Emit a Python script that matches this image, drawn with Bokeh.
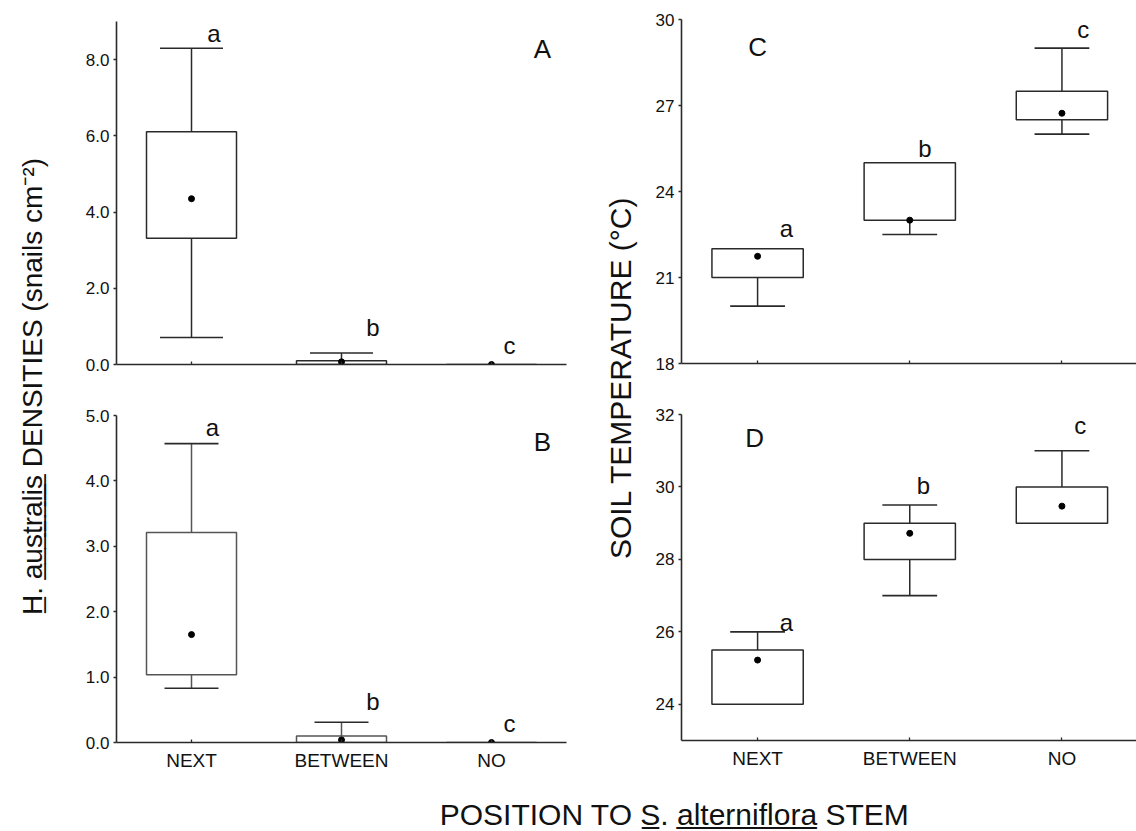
import math
from bokeh.plotting import figure
from bokeh.layouts import row, column
from bokeh.models import Range1d, FixedTicker
from bokeh.core.properties import value
from bokeh.embed import file_html
from bokeh.resources import INLINE

# ---------------- data ----------------
categories = ["NEXT", "BETWEEN", "NO"]

# Panel A: H. australis densities (snails cm-2)
a_min = [0.71, 0.0, 0.0]
a_q1 = [3.31, 0.0, 0.0]
a_q3 = [6.11, 0.10, 0.0]
a_max = [8.30, 0.30, 0.0]
a_mean = [4.35, 0.07, 0.0]
a_letters = ["a", "b", "c"]

# Panel B
b_min = [0.83, 0.0, 0.0]
b_q1 = [1.035, 0.0, 0.0]
b_q3 = [3.21, 0.10, 0.0]
b_max = [4.57, 0.31, 0.0]
b_mean = [1.65, 0.04, 0.0]
b_letters = ["a", "b", "c"]

# Panel C: soil temperature (°C)
c_min = [20.0, 22.5, 26.0]
c_q1 = [21.0, 23.0, 26.5]
c_q3 = [22.0, 25.0, 27.5]
c_max = [22.0, 25.0, 29.0]
c_mean = [21.74, 23.0, 26.73]
c_letters = ["a", "b", "c"]

# Panel D
d_min = [24.0, 27.0, 29.0]
d_q1 = [24.0, 28.0, 29.0]
d_q3 = [25.5, 29.0, 30.0]
d_max = [26.0, 29.5, 31.0]
d_mean = [25.22, 28.72, 29.47]
d_letters = ["a", "b", "c"]

a_yticks = [0, 2, 4, 6, 8]
a_ytick_labels = ["0.0", "2.0", "4.0", "6.0", "8.0"]
b_yticks = [0, 1, 2, 3, 4, 5]
b_ytick_labels = ["0.0", "1.0", "2.0", "3.0", "4.0", "5.0"]
c_yticks = [18, 21, 24, 27, 30]
c_ytick_labels = ["18", "21", "24", "27", "30"]
d_yticks = [24, 26, 28, 30, 32]
d_ytick_labels = ["24", "26", "28", "30", "32"]

# ---------------- style ----------------
FONT = "Liberation Sans"
LINE = "#2a2a2a"


def ul(s):
    return "".join(ch + "\u0332" for ch in s)


def panel(width, height, borders, xend, yrange, yticks, ylabels, show_x,
          mins, q1, q3, maxs, means, letters, letter_pos, tag, tag_pos,
          cap=0.36, box_color=LINE):
    bl, br, bt, bb = borders
    p = figure(width=width, height=height, x_range=Range1d(-0.5, xend),
               y_range=Range1d(*yrange), output_backend="svg",
               toolbar_location=None, tools="",
               min_border_left=bl, min_border_right=br,
               min_border_top=bt, min_border_bottom=bb)
    p.xgrid.visible = False
    p.ygrid.visible = False
    p.outline_line_color = None
    p.background_fill_color = None
    p.border_fill_color = None

    xs = list(range(len(categories)))
    p.xaxis.ticker = FixedTicker(ticks=xs)
    if show_x:
        p.xaxis.major_label_overrides = {i: c for i, c in enumerate(categories)}
        p.xaxis.major_label_text_font_size = "19px"
    else:
        p.xaxis.major_label_overrides = {i: "" for i in xs}
        p.xaxis.major_label_text_font_size = "1px"
    p.xaxis.major_tick_in = 3
    p.xaxis.major_tick_out = 0
    p.xaxis.minor_tick_line_color = None
    p.xaxis.major_label_standoff = 7
    p.xaxis.major_label_text_font = FONT
    p.xaxis.major_label_text_color = "#111111"

    p.yaxis.ticker = FixedTicker(ticks=yticks)
    p.yaxis.major_label_overrides = {t: l for t, l in zip(yticks, ylabels)}
    p.yaxis.major_tick_in = 0
    p.yaxis.major_tick_out = 3
    p.yaxis.minor_tick_line_color = None
    p.yaxis.major_label_standoff = 4
    p.yaxis.major_label_text_font = FONT
    p.yaxis.major_label_text_font_size = "17px"
    p.yaxis.major_label_text_color = "#111111"

    for ax in (p.xaxis, p.yaxis):
        ax.axis_line_color = LINE
        ax.axis_line_width = 1.6
        ax.major_tick_line_color = LINE
        ax.major_tick_line_width = 1.3

    # boxes
    hw = 0.3
    p.quad(left=[x - hw for x in xs], right=[x + hw for x in xs],
           bottom=q1, top=q3, fill_color="white", line_color=box_color,
           line_width=1.5)
    # upper whiskers
    ux = [x for x, a, b in zip(xs, q3, maxs) if b > a]
    uy0 = [a for a, b in zip(q3, maxs) if b > a]
    uy1 = [b for a, b in zip(q3, maxs) if b > a]
    if ux:
        p.segment(x0=ux, y0=uy0, x1=ux, y1=uy1, line_color=box_color, line_width=1.5)
        p.segment(x0=[x - cap / 2 for x in ux], y0=uy1,
                  x1=[x + cap / 2 for x in ux], y1=uy1,
                  line_color=LINE, line_width=1.6)
    lx = [x for x, a, b in zip(xs, q1, mins) if b < a]
    ly0 = [a for a, b in zip(q1, mins) if b < a]
    ly1 = [b for a, b in zip(q1, mins) if b < a]
    if lx:
        p.segment(x0=lx, y0=ly0, x1=lx, y1=ly1, line_color=box_color, line_width=1.5)
        p.segment(x0=[x - cap / 2 for x in lx], y0=ly1,
                  x1=[x + cap / 2 for x in lx], y1=ly1,
                  line_color=LINE, line_width=1.6)
    # means
    p.scatter(x=xs, y=means, size=6, marker="circle", fill_color="black",
              line_color="black")
    # significance letters
    p.text(x=[x + dx for x, (dx, _) in zip(xs, letter_pos)],
           y=[y for (_, y) in letter_pos], text=letters,
           text_font=value(FONT), text_font_size="24px",
           text_align="center", text_baseline="middle", text_color="#111111")
    p.text(x=[tag_pos[0]], y=[tag_pos[1]], text=[tag],
           text_font=value(FONT), text_font_size="26px",
           text_align="center", text_baseline="middle", text_color="#111111")
    return p


pA = panel(544, 394, (60, 34, 21, 30), 2.5, (0, 9), a_yticks, a_ytick_labels, False,
           a_min, a_q1, a_q3, a_max, a_mean, a_letters,
           [(0.15, 8.69), (0.21, 0.97), (0.12, 0.5)], "A", (2.34, 8.27), cap=0.42)
pB = panel(544, 388, (60, 34, 21, 40), 2.5, (0, 5), b_yticks, b_ytick_labels, True,
           b_min, b_q1, b_q3, b_max, b_mean, b_letters,
           [(0.14, 4.81), (0.21, 0.62), (0.12, 0.29)], "B", (2.34, 4.59),
           cap=0.36, box_color="#555555")
pC = panel(496, 393, (41, 0, 19, 30), 2.49, (18, 30), c_yticks, c_ytick_labels, False,
           c_min, c_q1, c_q3, c_max, c_mean, c_letters,
           [(0.19, 22.72), (0.10, 25.51), (0.14, 29.66)], "C", (0.0, 29.05))
pD = panel(496, 389, (41, 0, 21, 42), 2.49, (23, 32), d_yticks, d_ytick_labels, True,
           d_min, d_q1, d_q3, d_max, d_mean, d_letters,
           [(0.19, 26.26), (0.09, 30.05), (0.12, 31.7)], "D", (-0.02, 31.36))


def text_fig(w, h, tx, ty, txt, angle, size):
    f = figure(width=w, height=h, x_range=Range1d(0, w), y_range=Range1d(0, h),
               output_backend="svg", toolbar_location=None, tools="",
               min_border=0)
    f.axis.visible = False
    f.grid.visible = False
    f.outline_line_color = None
    f.background_fill_color = None
    f.border_fill_color = None
    f.text(x=[tx], y=[ty], text=[txt], angle=angle, text_font=value(FONT),
           text_font_size=size, text_align="center", text_baseline="middle",
           text_color="#111111")
    return f


left_title = ul("H") + ". " + ul("australis") + " DENSITIES (snails cm\u207b\u00b2)"
right_title = "SOIL TEMPERATURE (\u00b0C)"
bottom_title = "POSITION TO " + ul("S") + ". " + ul("alterniflora") + " STEM"

tL = text_fig(56, 782, 32, 396, left_title, math.pi / 2, "28px")
tM = text_fig(40, 782, 20, 405, right_title, math.pi / 2, "30px")
tB = text_fig(1136, 49, 674, 17, bottom_title, 0, "30px")

layout = column(row(tL, column(pA, pB), tM, column(pC, pD)), tB)

open("out.html", "w").write(file_html(layout, INLINE))
